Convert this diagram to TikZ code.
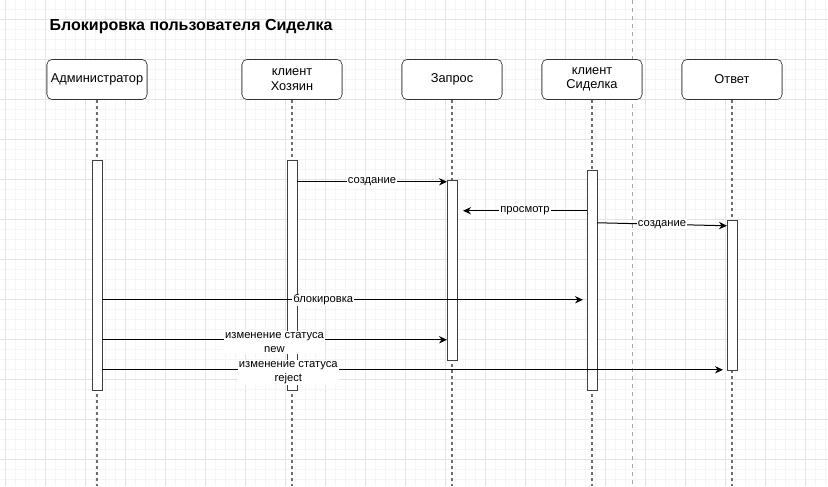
\documentclass[tikz,border=0pt]{standalone}
\usepackage{fontspec}
\setmainfont{Liberation Sans}
\definecolor{gridminor}{RGB}{245,245,245}
\definecolor{gridmajor}{RGB}{228,228,228}
\definecolor{lifegray}{RGB}{110,110,110}
\usetikzlibrary{arrows.meta, positioning}

\begin{document}
\begin{tikzpicture}[x=0.75pt, y=-0.75pt, node distance=1.8cm]
      \tikzstyle{actor} = [rectangle, draw=black!80, fill=white, align=center, rounded corners=3.75pt, minimum height=30pt, minimum width=75pt, inner sep=0pt, font=\fontsize{9.6}{10.8}\selectfont]
      \tikzstyle{bar} = [rectangle, draw=black!75, fill=white, minimum width=7.5pt, inner sep=0pt, outer sep=0pt]
      \tikzstyle{lifeline} = [draw=lifegray, line width=1.2pt, dash pattern=on 2.25pt off 2.25pt]
      \tikzstyle{line} = [draw, line width=0.75pt, -{Stealth[length=6pt, width=5.5pt]}]
      \tikzstyle{msg} = [fill=white, inner sep=0.75pt, align=center, font=\fontsize{8.4}{10.5}\selectfont]

      \useasboundingbox (0,0) rectangle (828,486);
      % grid
      \foreach \gx in {5,15,...,825} \draw [gridminor, line width=0.5pt] (\gx,0) -- (\gx,486);
      \foreach \gy in {9,19,...,479} \draw [gridminor, line width=0.5pt] (0,\gy) -- (828,\gy);
      \foreach \gx in {5,45,...,805} \draw [gridmajor, line width=0.6pt] (\gx,0) -- (\gx,486);
      \foreach \gy in {19,59,...,459} \draw [gridmajor, line width=0.6pt] (0,\gy) -- (828,\gy);
      \draw [black!35, line width=0.5pt, dash pattern=on 3pt off 3pt] (632,0) -- (632,486);

      \node [anchor=west, font=\fontsize{12}{14}\selectfont\bfseries] (title) at (45,27) {Блокировка пользователя Сиделка};

      \node [actor] (admin) at (97,79.5) {Администратор};
      \node [actor, right of=admin, node distance=146.25pt] (host) {клиент\\Хозяин};
      \node [actor, right of=host, node distance=120pt] (zapros) {Запрос};
      \node [actor, right of=zapros, node distance=105pt] (sidelka) {клиент\\Сиделка};
      \node [actor, right of=sidelka, node distance=105pt] (otvet) {Ответ};

      \coordinate (bottom) at (0,486);
      \path [lifeline] (admin) -- (admin |- bottom);
      \path [lifeline] (host) -- (host |- bottom);
      \path [lifeline] (zapros) -- (zapros |- bottom);
      \path [lifeline] (sidelka) -- (sidelka |- bottom);
      \path [lifeline] (otvet) -- (otvet |- bottom);
      % redraw boxes over lifelines
      \node [actor] at (admin) {Администратор};
      \node [actor] at (host) {клиент\\Хозяин};
      \node [actor] at (zapros) {Запрос};
      \node [actor] at (sidelka) {клиент\\Сиделка};
      \node [actor] at (otvet) {Ответ};

      \node [bar, below=45pt of admin, minimum height=172.5pt] (adminbar) {};
      \node [bar, below=45pt of host, minimum height=172.5pt] (hostbar) {};
      \node [bar, below=60pt of zapros, minimum height=135pt] (zaprosbar) {};
      \node [bar, below=52.5pt of sidelka, minimum height=165pt] (sidelkabar) {};
      \node [bar, below=90pt of otvet, minimum height=112.5pt] (otvetbar) {};

      \path [line] ([yshift=-16.5pt]hostbar.north east) -- node [msg] {создание} ([yshift=-1.5pt]zaprosbar.north west);
      \path [line] ([yshift=-30.75pt]sidelkabar.north west) -- node [msg] {просмотр} ([xshift=4.5pt, yshift=-23.25pt]zaprosbar.north east);
      \path [line] ([yshift=-39.75pt]sidelkabar.north east) -- node [msg] {создание} ([yshift=-4.5pt]otvetbar.north west);
      \path [line] ([yshift=-105pt]adminbar.north east) -- node [msg, pos=0.46] {блокировка} ([xshift=-3pt, yshift=-97.5pt]sidelkabar.north west);
      \path [line] ([yshift=-135pt]adminbar.north east) -- node [msg, yshift=-2pt] {изменение статуса\\new} ([yshift=-120pt]zaprosbar.north west);
      \path [line] ([yshift=-157.5pt]adminbar.north east) -- node [msg, pos=0.3, yshift=-2pt] {изменение статуса\\reject} ([xshift=-3pt]otvetbar.south west);
    \end{tikzpicture}
\end{document}
